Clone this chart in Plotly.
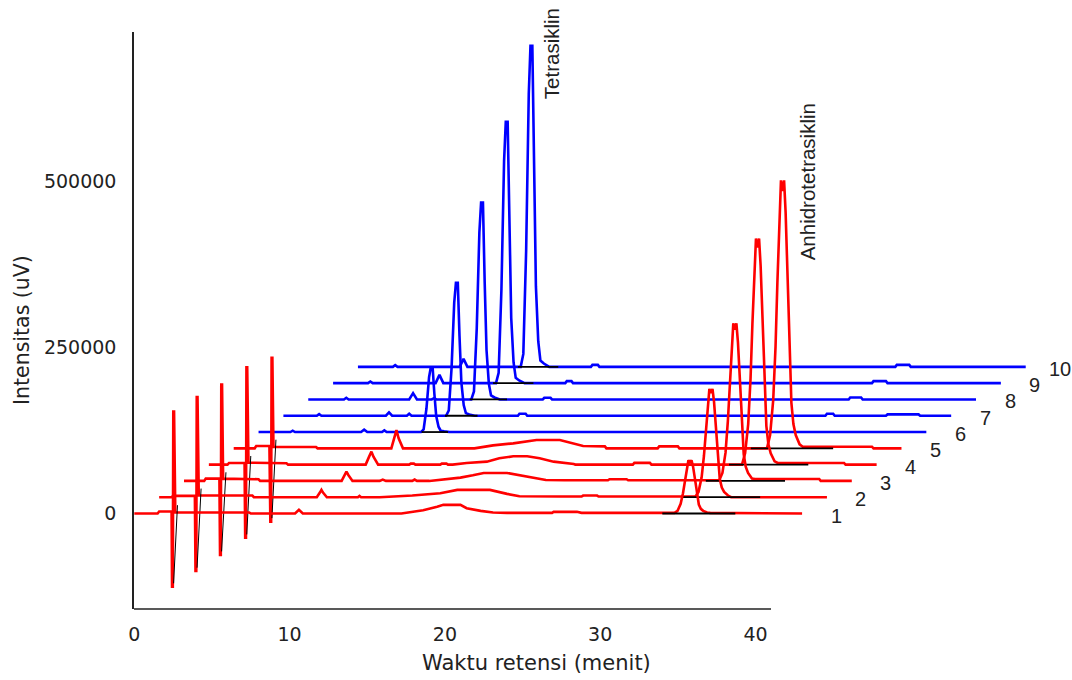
import plotly.graph_objects as go

# ---------------------------------------------------------------------------
# Chromatogram runs (retention time in minutes, detector signal in uV).
# Runs 1-5: anhidrotetrasiklin series, runs 6-10: tetrasiklin series.
# Each run is stacked: shifted right by RUN_SHIFT_MIN and up by RUN_OFFSET_UV.
# ---------------------------------------------------------------------------
RUN_SHIFT_MIN = 1.6
RUN_OFFSET_UV = 24500

t_run1 = [0.0, 1.5, 1.6, 2.40, 2.43, 2.48, 2.51, 2.56, 2.64, 7.4, 7.5, 10.35, 10.6, 10.85,
          17.2, 18.6, 19.5, 19.9, 21.0, 21.4, 22.3, 23.1, 24.0, 26.9, 27.0, 28.5, 28.8,
          34.78, 34.98, 35.18, 35.33, 35.45, 35.58, 35.68, 35.78, 35.88, 35.98, 36.07,
          36.19, 36.35, 36.48, 36.63, 36.88, 37.08, 40.9, 41.0, 43.0]
i_run1 = [0, 0, 3000, 3000, -110000, -110000, 153500, 153500, 1500, 1500, 0, 0, 5500, 0,
          0, 5000, 10000, 13000, 13000, 8000, 4000, 1500, 1000, 1000, 2500, 2500, 1000,
          1000, 4000, 14500, 30500, 49500, 70500, 80000, 77000, 80000, 70500, 54500,
          38500, 13500, 7000, 4000, 1500, 1000, 1000, 0, 0]

t_run2 = [0.0, 0.8, 0.9, 2.30, 2.34, 2.39, 2.42, 2.47, 2.55, 6.0, 6.1,
          10.15, 10.35, 10.45, 10.55, 10.8,
          12.8, 12.9, 13.0, 14.2, 16.3, 18.1, 19.2, 21.3, 22.4, 23.2, 25.8, 27.2, 27.3, 28.2, 28.3,
          34.53, 34.73, 34.93, 35.08, 35.2, 35.33, 35.43, 35.53, 35.63, 35.73, 35.82,
          35.94, 36.1, 36.23, 36.38, 36.63, 36.83, 43.0]
i_run2 = [0, 0, 2000, 2000, -111000, -111000, 150500, 150500, 2500, 2500, 0,
          0, 7000, 11000, 7000, 0,
          0, 2000, 0, 0, 2500, 6000, 11000, 11000, 5000, 1500, 1000, 1000, 2500, 2500, 1000,
          1000, 8000, 29500, 62000, 101000, 143500, 163000, 156500, 163000, 143500, 111000,
          78000, 27500, 14500, 8000, 2500, 0, 0]

t_run3 = [0.0, 1.3, 1.4, 2.28, 2.32, 2.37, 2.40, 2.45, 2.52, 4.8, 4.9,
          10.15, 10.35, 10.46, 10.58, 10.85,
          12.6, 12.8, 13.0, 14.7, 14.85, 15.0, 15.8, 16.8, 17.8, 18.6, 19.3, 20.8, 21.6, 22.5,
          23.3, 24.5, 27.3, 27.4, 28.5, 28.6,
          34.47, 34.67, 34.87, 35.02, 35.14, 35.27, 35.37, 35.47, 35.57, 35.67, 35.76,
          35.88, 36.04, 36.17, 36.32, 36.57, 36.77, 40.9, 41.0, 43.0]
i_run3 = [0, 0, 3500, 3500, -111500, -111500, 145000, 145000, 3500, 2500, 0,
          0, 9000, 14000, 9000, 0,
          0, 2000, 0, 0, 2000, 0, 0, 2500, 5000, 8500, 12000, 12000, 9000, 5000,
          1500, 1000, 1000, 2500, 2500, 1000,
          1000, 12000, 42500, 90000, 147000, 208500, 237000, 227500, 237000, 208500, 161000,
          114000, 40500, 21500, 12000, 3500, 3000, 3000, 0, 0]

t_run4 = [0.0, 1.2, 1.3, 2.30, 2.34, 2.39, 2.42, 2.47, 2.55, 5.0, 5.1,
          10.1, 10.32, 10.47, 10.6, 10.9,
          12.9, 13.0, 13.2, 13.3, 14.9, 15.0, 15.3, 15.4, 15.7, 16.6, 17.9, 18.7, 19.6, 20.5,
          21.3, 22.2, 23.5, 23.6, 27.3, 27.4, 28.4, 28.5,
          34.33, 34.53, 34.73, 34.88, 35.0, 35.13, 35.23, 35.33, 35.43, 35.53, 35.62,
          35.74, 35.9, 36.03, 36.18, 36.43, 36.63, 40.9, 41.0, 43.0]
i_run4 = [0, 0, 2500, 2500, -110000, -110000, 146500, 146500, 3000, 2000, 0,
          0, 12000, 19500, 12000, 0,
          0, 1500, 1500, 0, 0, 1500, 1500, 0, 0, 2500, 4500, 9500, 12500, 12500,
          9500, 4500, 1000, 0, 0, 2700, 2700, 0,
          0, 17000, 61000, 129000, 211000, 299000, 340000, 326500, 340000, 299000, 231000,
          163000, 58000, 30500, 17000, 5000, 2500, 2500, 0, 0]

t_run5 = [0.0, 1.35, 1.45, 2.30, 2.36, 2.41, 2.44, 2.49, 2.56, 5.0, 5.1, 5.3, 5.4,
          10.15, 10.33, 10.48, 10.62, 10.9,
          15.5, 16.7, 18.0, 18.9, 19.5, 21.0, 21.6, 22.1, 22.5, 23.9, 24.0,
          27.3, 27.4, 28.6, 28.7,
          34.34, 34.54, 34.74, 34.89, 35.01, 35.14, 35.24, 35.34, 35.44, 35.54, 35.63,
          35.75, 35.91, 36.04, 36.19, 36.44, 36.64, 41.1, 41.2, 43.0]
i_run5 = [0, 0, 3500, 3500, -110500, -110500, 136000, 136000, 2500, 1000, 2000, 2000, 0,
          0, 15000, 27500, 15000, 0,
          0, 4500, 7500, 10000, 12500, 12500, 9000, 5000, 3500, 3000, 0,
          0, 3000, 3000, 0,
          0, 20000, 72500, 153000, 250000, 354500, 403000, 387000, 403000, 354500, 274000,
          193500, 68500, 36500, 20000, 6000, 2500, 2500, 0, 0]

t_run6 = [0.0, 2.05, 2.2, 2.35, 6.6, 6.8, 7.0, 7.95, 8.1, 8.25,
          10.46, 10.63, 10.81, 10.98, 11.09, 11.21, 11.32, 11.44, 11.59, 11.73, 11.95, 12.30,
          43.0]
i_run6 = [0, 0, 2000, 0, 0, 3500, 0, 0, 2500, 0,
          0, 4000, 35000, 82500, 97000, 97000, 58000, 24000, 8000, 2000, 1000, 0,
          0]

t_run7 = [0.0, 2.15, 2.3, 2.45, 6.6, 6.8, 7.0, 7.95, 8.1, 8.25,
          10.48, 10.65, 10.83, 11.0, 11.11, 11.23, 11.34, 11.46, 11.61, 11.75, 11.97, 12.32,
          15.1, 15.2, 15.6, 15.7, 34.9, 35.0, 35.4, 35.5, 38.8, 38.9, 40.9, 41.0, 43.0]
i_run7 = [0, 0, 2500, 0, 0, 5000, 0, 0, 3000, 0,
          0, 8000, 72000, 170000, 200000, 200000, 120000, 50000, 16000, 4000, 2000, 0,
          0, 3000, 3000, 0, 0, 3000, 3000, 0, 0, 2000, 2000, 0, 0]

t_run8 = [0.0, 2.3, 2.45, 2.6, 6.5, 6.75, 7.0, 7.95, 8.1, 8.25,
          10.50, 10.67, 10.85, 11.02, 11.13, 11.25, 11.36, 11.48, 11.63, 11.77, 11.99, 12.34,
          15.1, 15.2, 15.6, 15.7, 34.8, 34.9, 35.6, 35.7, 43.0]
i_run8 = [0, 0, 2500, 0, 0, 9500, 0, 0, 2000, 0,
          0, 12000, 106500, 251500, 296000, 296000, 177500, 74000, 23500, 6000, 3000, 0,
          0, 2500, 2500, 0, 0, 3000, 3000, 0, 0]

t_run9 = [0.0, 2.25, 2.4, 2.55, 6.6, 6.85, 7.1,
          10.49, 10.66, 10.84, 11.01, 11.12, 11.24, 11.35, 11.47, 11.62, 11.76, 11.98, 12.33,
          14.95, 15.05, 15.35, 15.45, 34.7, 34.8, 35.6, 35.7, 43.0]
i_run9 = [0, 0, 2500, 0, 0, 12500, 0,
          0, 15500, 141500, 334000, 393000, 393000, 236000, 98000, 31500, 8000, 4000, 0,
          0, 3000, 3000, 0, 0, 3000, 3000, 0, 0]

t_run10 = [0.0, 2.25, 2.4, 2.55, 6.55, 6.8, 7.05,
           10.48, 10.65, 10.83, 11.0, 11.11, 11.23, 11.34, 11.46, 11.61, 11.75, 11.97, 12.32,
           15.0, 15.1, 15.45, 15.55, 34.6, 34.7, 35.5, 35.6, 43.0]
i_run10 = [0, 0, 2500, 0, 0, 12000, 0,
           0, 19500, 174000, 410500, 483000, 483000, 290000, 121000, 38500, 9500, 5000, 0,
           0, 3000, 3000, 0, 0, 3000, 3000, 0, 0]

run_labels = ["1", "2", "3", "4", "5", "6", "7", "8", "9", "10"]

# integration lines drawn by the data system (black)
# solvent-front dips, runs 1-5
front_t_from = [2.53, 2.44, 2.42, 2.44, 2.46]
front_i_from = [-105000, -106000, -106000, -105000, -105000]
front_t_to = [2.78, 2.70, 2.70, 2.70, 2.72]
front_i_to = [12500, 13000, 13000, 13000, 13000]
# anhidrotetrasiklin baselines, runs 1-5
atc_base_from = [34.0, 33.7, 33.6, 33.5, 33.3]
atc_base_to = [38.7, 38.7, 38.7, 38.6, 38.6]
# tetrasiklin baselines, runs 6-10
tc_base_from = [10.5, 10.4, 10.4, 10.3, 10.3]
tc_base_to = [12.2, 12.5, 12.8, 12.9, 12.9]

peak_names = ["Tetrasiklin", "Anhidrotetrasiklin"]

x_ticks = [0, 10, 20, 30, 40]
y_ticks = [0, 250000, 500000]
y_tick_text = ["0", "250000", "500000"]

runs = [(t_run1, i_run1), (t_run2, i_run2), (t_run3, i_run3), (t_run4, i_run4),
        (t_run5, i_run5), (t_run6, i_run6), (t_run7, i_run7), (t_run8, i_run8),
        (t_run9, i_run9), (t_run10, i_run10)]

RED = "#ff0000"
BLUE = "#0000ff"
INK = "#000000"
TEXT = "#222222"


def stacked(k, ts, vs):
    return ([t + k * RUN_SHIFT_MIN for t in ts], [v + k * RUN_OFFSET_UV for v in vs])


fig = go.Figure()


def add_line(xs, ys, color, width):
    fig.add_trace(go.Scatter(x=xs, y=ys, mode="lines", hoverinfo="skip",
                             line=dict(color=color, width=width, shape="linear")))


# draw from the back run (10) to the front run (1)
for k in range(len(runs) - 1, -1, -1):
    ts, vs = runs[k]
    xs, ys = stacked(k, ts, vs)
    add_line(xs, ys, RED if k < 5 else BLUE, 2.6)
    if k < 5:
        bx, by = stacked(k, [atc_base_from[k], atc_base_to[k]], [0, 0])
        add_line(bx, by, INK, 1.8)
        fx, fy = stacked(k, [front_t_from[k], front_t_to[k]], [front_i_from[k], front_i_to[k]])
        add_line(fx, fy, INK, 1.0)
    else:
        j = k - 5
        bx, by = stacked(k, [tc_base_from[j], tc_base_to[j]], [0, 0])
        add_line(bx, by, INK, 1.8)

annotations = []

# run numbers at the end of each chromatogram
for k, lab in enumerate(run_labels):
    ts, _ = runs[k]
    annotations.append(dict(
        x=ts[-1] + k * RUN_SHIFT_MIN, y=k * RUN_OFFSET_UV, xref="x", yref="y",
        text=lab, showarrow=False, xanchor="center", yanchor="middle",
        xshift=34, yshift=-2,
        font=dict(family="Liberation Sans, Arial, sans-serif", size=20, color=TEXT)))

# peak names beside the tallest peak of each series
tc_k = 9
tc_apex = max(runs[tc_k][1])
tc_time = runs[tc_k][0][runs[tc_k][1].index(tc_apex)]
annotations.append(dict(
    x=tc_time + tc_k * RUN_SHIFT_MIN, y=tc_apex + tc_k * RUN_OFFSET_UV,
    xref="x", yref="y", text=peak_names[0], textangle=-90, showarrow=False,
    xanchor="center", yanchor="middle", xshift=21, yshift=-8,
    font=dict(family="Liberation Sans, Arial, sans-serif", size=20.5, color=TEXT)))

atc_k = 4
atc_apex = max(runs[atc_k][1])
atc_time = runs[atc_k][0][runs[atc_k][1].index(atc_apex)]
annotations.append(dict(
    x=atc_time + atc_k * RUN_SHIFT_MIN, y=atc_apex + atc_k * RUN_OFFSET_UV,
    xref="x", yref="y", text=peak_names[1], textangle=-90, showarrow=False,
    xanchor="center", yanchor="middle", xshift=26, yshift=-1,
    font=dict(family="Liberation Sans, Arial, sans-serif", size=20.5, color=TEXT)))

# axis titles
annotations.append(dict(
    x=0.4296, y=-0.0936, xref="paper", yref="paper", text="Waktu retensi (menit)",
    showarrow=False, xanchor="center", yanchor="middle",
    font=dict(family="DejaVu Sans, sans-serif", size=21, color=TEXT)))
annotations.append(dict(
    x=-0.1194, y=0.4835, xref="paper", yref="paper", text="Intensitas (uV)",
    textangle=-90, showarrow=False, xanchor="center", yanchor="middle",
    font=dict(family="DejaVu Sans, sans-serif", size=20.5, color=TEXT)))

tick_font = dict(family="DejaVu Sans, sans-serif", size=19, color=TEXT)

fig.update_layout(
    width=1072, height=680,
    margin=dict(l=134, r=0, t=32, b=71, autoexpand=False),
    paper_bgcolor="white", plot_bgcolor="white",
    showlegend=False,
    xaxis=dict(range=[-0.02, 60.38], showgrid=False, zeroline=False, showline=False,
               tickmode="array", tickvals=x_ticks, ticks="", tickfont=tick_font,
               ticklabelstandoff=12, fixedrange=True),
    yaxis=dict(range=[-143600, 724080], showgrid=False, zeroline=False, showline=True,
               linecolor="#222222", linewidth=1.5,
               tickmode="array", tickvals=y_ticks, ticktext=y_tick_text, ticks="",
               tickfont=tick_font, ticklabelstandoff=12, fixedrange=True),
    shapes=[dict(type="line", xref="paper", yref="paper",
                 x0=0, x1=(771 - 134) / 938, y0=0, y1=0,
                 line=dict(color="#222222", width=1.5))],
    annotations=annotations,
)

fig.write_html("out.html")
